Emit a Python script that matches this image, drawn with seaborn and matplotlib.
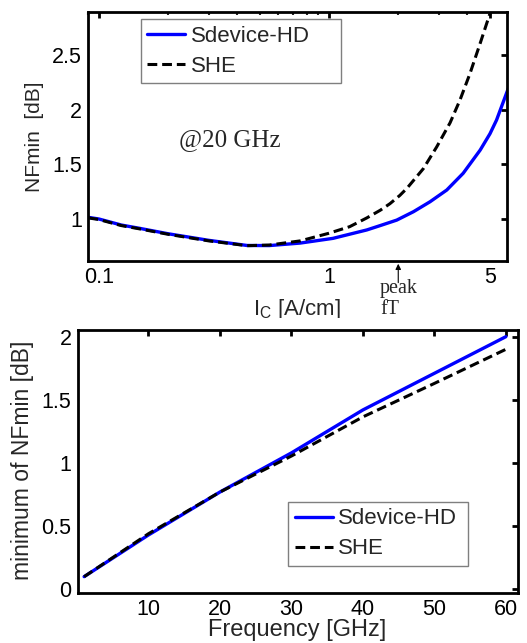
import numpy as np
import pandas as pd
import matplotlib
matplotlib.use("Agg")
import matplotlib.pyplot as plt
from matplotlib.patches import Rectangle
from matplotlib.ticker import FixedLocator, FixedFormatter, NullFormatter, LogLocator
import seaborn as sns

# ---------------- data ----------------
# top panel: NFmin vs collector current @20 GHz
ic_hd = [0.09, 0.1, 0.125, 0.15, 0.2, 0.3, 0.44, 0.55, 0.75, 1.04, 1.46, 1.67, 1.97,
         2.33, 2.75, 3.25, 3.83, 4.54, 5.01, 5.35, 6.02]
nf_hd = [1.015, 1.0, 0.945, 0.915, 0.865, 0.805, 0.758, 0.757, 0.78, 0.823, 0.90, 0.94, 0.99,
         1.067, 1.158, 1.265, 1.418, 1.63, 1.78, 1.905, 2.195]
ic_she = [0.09, 0.1, 0.125, 0.15, 0.2, 0.3, 0.44, 0.55, 0.75, 1.0, 1.23, 1.46, 1.67, 1.84,
          2.03, 2.18, 2.57, 2.94, 3.36, 3.71, 4.10, 4.54, 5.01, 5.3]
nf_she = [1.01, 0.995, 0.94, 0.91, 0.86, 0.80, 0.756, 0.762, 0.80, 0.87, 0.93, 1.01, 1.08, 1.14,
          1.215, 1.28, 1.46, 1.66, 1.88, 2.088, 2.33, 2.606, 2.88, 3.08]

# bottom panel: minimum of NFmin vs frequency
freq = [1, 10, 20, 30, 40, 50, 60]
nfmin_hd = [0.10, 0.43, 0.77, 1.08, 1.42, 1.71, 2.00]
nfmin_she = [0.10, 0.44, 0.77, 1.055, 1.365, 1.63, 1.90]

top_xticks = [0.1, 1, 5]
top_xticklabels = ["0.1", "1", "5"]
top_yticks = [1, 1.5, 2, 2.5]
top_yticklabels = ["1", "1.5", "2", "2.5"]
bot_xticks = [10, 20, 30, 40, 50, 60]
bot_yticks = [0, 0.5, 1, 1.5, 2]
bot_yticklabels = ["0", "0.5", "1", "1.5", "2"]
series_names = ["Sdevice-HD", "SHE"]

# ---------------- style ----------------
sns.set_theme(style="white")
plt.rcParams["font.family"] = ["Liberation Sans", "DejaVu Sans"]
plt.rcParams["mathtext.fontset"] = "custom"
plt.rcParams["mathtext.rm"] = "Liberation Sans"
plt.rcParams["mathtext.it"] = "Liberation Sans"

W, H = 527, 643
fig = plt.figure(figsize=(W / 100, H / 100), dpi=100)
fig.patch.set_facecolor("white")


def px_axes(x0, y0, x1, y1):
    return fig.add_axes([x0 / W, 1 - y1 / H, (x1 - x0) / W, (y1 - y0) / H])


ax1 = px_axes(88, 12, 507, 261)
ax2 = px_axes(77.7, 330, 518, 592.7)

BLUE = "#0000ff"
DASH = (3.2, 1.6)


def draw(ax, x, y_hd, y_she):
    df_hd = pd.DataFrame({"x": x[0], "y": y_hd})
    df_she = pd.DataFrame({"x": x[1], "y": y_she})
    sns.lineplot(data=df_hd, x="x", y="y", ax=ax, color=BLUE, lw=2.4,
                 label=series_names[0], estimator=None)
    sns.lineplot(data=df_she, x="x", y="y", ax=ax, color="black", lw=2.2,
                 label=series_names[1], estimator=None)
    ax.lines[-1].set_dashes(DASH)
    for ln in ax.lines:
        ln.set_solid_joinstyle("round")
        ln.set_dash_joinstyle("round")


# top panel
draw(ax1, (ic_hd, ic_she), nf_hd, nf_she)
ax1.set_xscale("log")
ax1.set_xlim(0.0896, 5.94)
ax1.set_ylim(0.616, 2.893)
ax1.xaxis.set_major_locator(FixedLocator(top_xticks))
ax1.xaxis.set_major_formatter(FixedFormatter(top_xticklabels))
ax1.xaxis.set_minor_locator(LogLocator(base=10, subs=np.arange(2, 10)))
ax1.xaxis.set_minor_formatter(NullFormatter())
ax1.set_yticks(top_yticks)
ax1.set_yticklabels(top_yticklabels)

# bottom panel
draw(ax2, (freq, freq), nfmin_hd, nfmin_she)
ax2.set_xlim(0.1, 61.7)
ax2.set_ylim(-0.027, 2.053)
ax2.set_xticks(bot_xticks)
ax2.set_xticklabels([str(v) for v in bot_xticks])
ax2.set_yticks(bot_yticks)
ax2.set_yticklabels(bot_yticklabels)

for ax in (ax1, ax2):
    for s in ax.spines.values():
        s.set_linewidth(2.0)
        s.set_color("black")
        s.set_visible(True)
    ax.tick_params(which="major", direction="in", length=4, width=2.0,
                   top=True, right=True, labelsize=15.5, colors="black",
                   pad=4.5)
    ax.tick_params(which="minor", direction="in", length=2.5, width=1.5,
                   top=True, right=True)
    ax.grid(False)

# labels
ax1.set_xlabel("I$_\\mathregular{C}$ [A/cm]", fontsize=16)
ax1.xaxis.set_label_coords(0.499, -0.145)
ax1.set_ylabel("NFmin  [dB]", fontsize=15)
ax1.yaxis.set_label_coords(-0.105, 0.5)

ax2.set_xlabel("Frequency [GHz]", fontsize=17)
ax2.xaxis.set_label_coords(0.498, -0.100)
ax2.set_ylabel("minimum of NFmin [dB]", fontsize=16.5)
ax2.yaxis.set_label_coords(-0.100, 0.505)

# legends
leg_kw = dict(loc="upper left", mode="expand", fontsize=16, frameon=True,
              fancybox=False, shadow=False, borderaxespad=0, borderpad=0.3,
              handlelength=1.7, handletextpad=0.25, labelspacing=0.4)
l1 = ax1.legend(bbox_to_anchor=(0.126, 0.715, 0.478, 0.257), **leg_kw)
l2 = ax2.legend(bbox_to_anchor=(0.478, 0.109, 0.409, 0.237), **leg_kw)
for lg in (l1, l2):
    fr = lg.get_frame()
    fr.set_edgecolor("#7f7f7f")
    fr.set_linewidth(1.0)
    fr.set_alpha(1)

# annotations
ax1.text(0.371, 1.72, "@20 GHz", family=["Liberation Serif", "DejaVu Serif"],
         fontsize=18, ha="center", va="center")
ax1.annotate("", xy=(2.0, 0.0), xycoords=("data", "axes fraction"),
             xytext=(2.0, -0.098), textcoords=("data", "axes fraction"),
             arrowprops=dict(arrowstyle="-|>", lw=0.8, color="black",
                             mutation_scale=8),
             annotation_clip=False)
fig.text(380 / W, 1 - 279 / H, "peak\nfT", family=["Liberation Serif", "DejaVu Serif"],
         fontsize=14.5, ha="left", va="top", linespacing=1.15)

# the reference panel is cropped just under the top x-label
fig.patches.append(Rectangle((0, 1 - 329 / H), 1, 11 / H, transform=fig.transFigure,
                             facecolor="white", edgecolor="none", zorder=10))

fig.savefig("out.png", dpi=100, facecolor="white")
